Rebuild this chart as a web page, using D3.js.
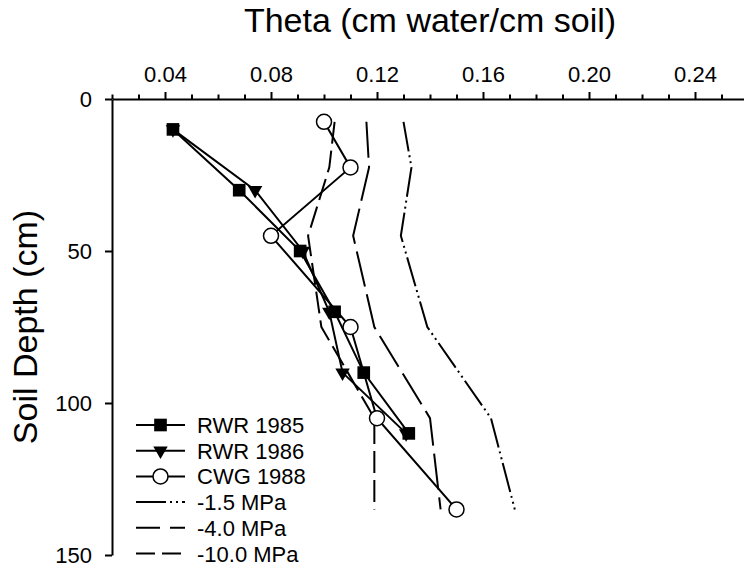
<!DOCTYPE html>
<html>
<head>
<meta charset="utf-8">
<script src="https://cdn.jsdelivr.net/npm/d3@7"></script>
<style>
  body { margin: 0; background: #fff; }
  svg { display: block; font-family: "Liberation Sans", Arial, sans-serif; }
</style>
</head>
<body>
<svg id="chart" width="744" height="571"></svg>
<script>
// Soil water content (theta) by depth
const depths85 = [10, 30, 50, 70, 90, 110];
const rwr1985 = [0.043, 0.068, 0.091, 0.104, 0.115, 0.132];
const depths86 = [10, 30, 50, 70, 90, 110];
const rwr1986 = [0.043, 0.074, 0.092, 0.102, 0.107, 0.131];
const depthsCwg = [7.5, 22.5, 45, 75, 105, 135];
const cwg1988 = [0.100, 0.110, 0.080, 0.110, 0.120, 0.150];

// water content at fixed matric potentials
const refDepths = [7.5, 22.5, 45, 75, 105, 135];
const mpa15 = [0.130, 0.133, 0.129, 0.139, 0.163, 0.172];
const mpa40 = [0.116, 0.117, 0.111, 0.119, 0.140, 0.144];
const mpa100 = [0.104, 0.102, 0.094, 0.099, 0.119, 0.119];

const xMajor = [0.04, 0.08, 0.12, 0.16, 0.20, 0.24];
const xMinor = [0.02, 0.03, 0.05, 0.06, 0.07, 0.09, 0.10, 0.11, 0.13, 0.14, 0.15, 0.17, 0.18, 0.19, 0.21, 0.22, 0.23, 0.25, 0.26];
const yTicks = [0, 50, 100, 150];

const legendLabels = ["RWR 1985", "RWR 1986", "CWG 1988", "-1.5 MPa", "-4.0 MPa", "-10.0 MPa"];

const svg = d3.select("#chart");
const mLeft = 112, mTop = 99, mRight = 748, mBottom = 555;

const x = d3.scaleLinear().domain([0.02, 0.26]).range([mLeft, mRight]);
const y = d3.scaleLinear().domain([0, 150]).range([mTop, mBottom]);

// minor ticks first, then major with labels
svg.append("g")
    .attr("transform", `translate(0,${mTop})`)
    .call(d3.axisTop(x).tickValues(xMinor).tickSize(4.5).tickSizeOuter(0).tickFormat(""))
    .call(g => g.select(".domain").remove())
    .call(g => g.selectAll("line").attr("stroke", "#000").attr("stroke-width", 2));

svg.append("g")
    .attr("transform", `translate(0,${mTop})`)
    .call(d3.axisTop(x).tickValues(xMajor).tickSize(7).tickSizeOuter(0).tickPadding(10).tickFormat(d3.format(".2f")))
    .call(g => g.select(".domain").attr("stroke", "#000").attr("stroke-width", 2))
    .call(g => g.selectAll("line").attr("stroke", "#000").attr("stroke-width", 2))
    .call(g => g.selectAll("text").attr("font-size", 22).attr("fill", "#000")
        .attr("font-family", "Liberation Sans, Arial, sans-serif"));

svg.append("g")
    .attr("transform", `translate(${mLeft},0)`)
    .call(d3.axisLeft(y).tickValues(yTicks).tickSize(7).tickSizeOuter(0).tickPadding(13))
    .call(g => g.select(".domain").attr("stroke", "#000").attr("stroke-width", 2))
    .call(g => g.selectAll("line").attr("stroke", "#000").attr("stroke-width", 2))
    .call(g => g.selectAll("text").attr("font-size", 22).attr("fill", "#000")
        .attr("font-family", "Liberation Sans, Arial, sans-serif"));

// axis titles
svg.append("text")
    .attr("x", 430).attr("y", 32)
    .attr("text-anchor", "middle")
    .attr("font-size", 34)
    .text("Theta (cm water/cm soil)");

svg.append("text")
    .attr("transform", `translate(37,${(mTop + mBottom) / 2}) rotate(-90)`)
    .attr("text-anchor", "middle")
    .attr("font-size", 34)
    .text("Soil Depth (cm)");

const line = d3.line().x(d => x(d[0])).y(d => y(d[1]));
const zip = (vals, deps) => vals.map((v, i) => [v, deps[i]]);

const refStyles = [
    { vals: mpa15, dash: "30,4,2,4,2,4" },
    { vals: mpa40, dash: "36,8" },
    { vals: mpa100, dash: "22,7" }
];
refStyles.forEach(s => {
    svg.append("path")
        .datum(zip(s.vals, refDepths))
        .attr("d", line)
        .attr("fill", "none")
        .attr("stroke", "#000")
        .attr("stroke-width", 2)
        .attr("stroke-dasharray", s.dash);
});

const tri = d3.symbol(d3.symbolTriangle, 90);
const sq = d3.symbol(d3.symbolSquare, 160);

// RWR 1986
const d86 = zip(rwr1986, depths86);
svg.append("path").datum(d86).attr("d", line)
    .attr("fill", "none").attr("stroke", "#000").attr("stroke-width", 2);
svg.selectAll(".tri").data(d86).join("path")
    .attr("class", "tri")
    .attr("d", tri)
    .attr("transform", d => `translate(${x(d[0])},${y(d[1])}) rotate(180)`)
    .attr("fill", "#000");

// RWR 1985
const d85 = zip(rwr1985, depths85);
svg.append("path").datum(d85).attr("d", line)
    .attr("fill", "none").attr("stroke", "#000").attr("stroke-width", 2);
svg.selectAll(".sq").data(d85).join("path")
    .attr("class", "sq")
    .attr("d", sq)
    .attr("transform", d => `translate(${x(d[0])},${y(d[1])})`)
    .attr("fill", "#000");

// CWG 1988
const dCwg = zip(cwg1988, depthsCwg);
svg.append("path").datum(dCwg).attr("d", line)
    .attr("fill", "none").attr("stroke", "#000").attr("stroke-width", 2);
svg.selectAll(".circ").data(dCwg).join("circle")
    .attr("class", "circ")
    .attr("cx", d => x(d[0])).attr("cy", d => y(d[1]))
    .attr("r", 7.5)
    .attr("fill", "#fff").attr("stroke", "#000").attr("stroke-width", 1.5);

// legend
const legY = 425, legStep = 25.7, lx0 = 136, lx1 = 185;
const legDash = [null, null, null, "30,4,2,4,2,4", "24,10", "19,7"];
legendLabels.forEach((lab, i) => {
    const ly = legY + i * legStep;
    const g = svg.append("g");
    g.append("line")
        .attr("x1", lx0).attr("x2", lx1).attr("y1", ly).attr("y2", ly)
        .attr("stroke", "#000").attr("stroke-width", 2)
        .attr("stroke-dasharray", legDash[i]);
    const cx = (lx0 + lx1) / 2;
    if (i === 0) g.append("path").attr("d", sq).attr("transform", `translate(${cx},${ly})`).attr("fill", "#000");
    if (i === 1) g.append("path").attr("d", tri).attr("transform", `translate(${cx},${ly}) rotate(180)`).attr("fill", "#000");
    if (i === 2) g.append("circle").attr("cx", cx).attr("cy", ly).attr("r", 7.5)
        .attr("fill", "#fff").attr("stroke", "#000").attr("stroke-width", 1.5);
    g.append("text")
        .attr("x", 197).attr("y", ly + 8)
        .attr("font-size", 22)
        .text(lab);
});
</script>
</body>
</html>
